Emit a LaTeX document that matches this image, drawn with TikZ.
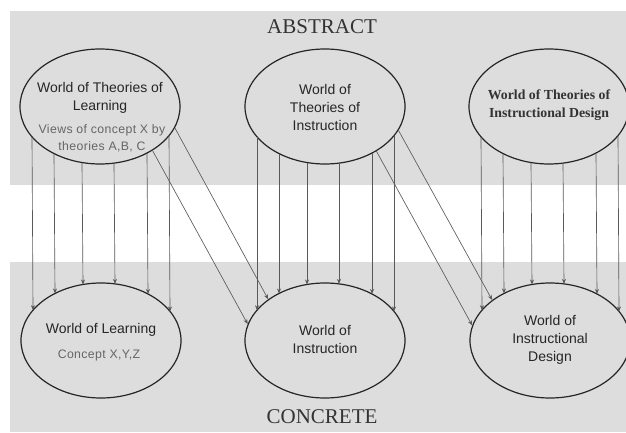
\documentclass[tikz,border=0pt]{standalone}
\usepackage{fontspec}
\setmainfont{Liberation Serif}
\newfontfamily\sansf{Liberation Sans}
\newfontfamily\sanswide[LetterSpace=3]{Liberation Sans}
\usetikzlibrary{shapes.geometric,arrows.meta,calc}
\definecolor{bandgray}{RGB}{221,221,221}
\begin{document}
\begin{tikzpicture}[x=1pt,y=-1pt,
  world/.style={ellipse,draw=black!85,line width=1.2pt,minimum width=160pt,minimum height=115pt,inner sep=0pt},
  maintext/.style={font=\sansf\fontsize{14}{18}\selectfont,text=black!85,align=center,inner sep=0pt},
  subtext/.style={font=\sanswide\fontsize{12.3}{17}\selectfont,text=black!60,align=center,inner sep=0pt},
  seriftext/.style={font=\bfseries\fontsize{13.8}{18}\selectfont,text=black!80,align=center,inner sep=0pt},
  arr/.style={draw=black!65,line width=0.65pt,-{Stealth[length=5pt,width=4pt]}},
  leveltext/.style={font=\fontsize{21}{21}\selectfont,text=black!80,inner sep=0pt}]
\useasboundingbox (0,0) rectangle (626,433);
\fill[bandgray] (10,11) rectangle (626,185);
\fill[bandgray] (10,262) rectangle (626,432);

\node[leveltext] (abs) at (322,27) {ABSTRACT};
\node[leveltext] (con) at (322,417) {CONCRETE};

\node[world] (e1) at (100,106.5) {};
\node[world] (e2) at (325,106.5) {};
\node[world] (e3) at (549,106.5) {};
\node[world] (e4) at (101,340.5) {};
\node[world] (e5) at (325,340.5) {};
\node[world] (e6) at (550,340.5) {};

\node[maintext] (t1) at (100,98) {World of Theories of\\Learning};
\node[subtext] (t1b) at (102,138.5) {Views of concept X by\\theories A,B, C};
\node[maintext] (t2) at (325,107) {World of\\Theories of\\Instruction};
\node[seriftext] (t3) at (549,105) {World of Theories of\\Instructional Design};
\node[maintext] (t4) at (101,330) {World of Learning};
\node[subtext] (t4b) at (99,355) {Concept X,Y,Z};
\node[maintext] (t5) at (325,339) {World of\\Instruction};
\node[maintext] (t6) at (550,340) {World of\\Instructional\\Design};

\foreach \a/\b in {e1/e4,e2/e5,e3/e6}{
  \foreach \dx in {-68,-46,-18,14,47,69}{
    \draw[arr] ($(\a.center)+(\dx,{57.5*sqrt(1-(\dx/80)^2)})$) -- ($(\b.center)+(\dx,{-57.5*sqrt(1-(\dx/80)^2)})$);
  }
}
\draw[arr] (e1.-16) -- (e5.144);
\draw[arr] (e1.-40) -- (e5.168);
\draw[arr] (e2.-18) -- (e6.145);
\draw[arr] (e2.-41) -- (e6.169);
\end{tikzpicture}
\end{document}
